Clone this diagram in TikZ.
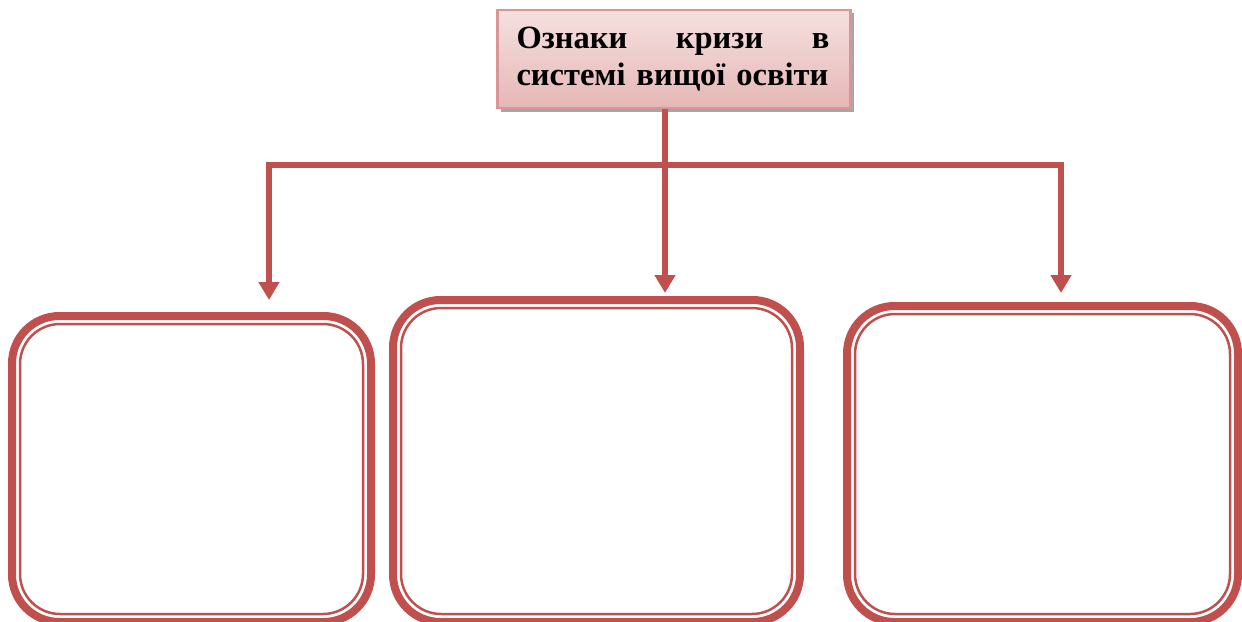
\documentclass[tikz,border=0pt]{standalone}
\usepackage{fontspec}
\setmainfont{Liberation Serif}
\usepackage{xcolor}
\usetikzlibrary{arrows.meta, positioning, shadows}
\definecolor{crisisred}{HTML}{C0504D}
\definecolor{titleedge}{HTML}{D99694}
\definecolor{titletop}{HTML}{F5E1E0}
\definecolor{titlebottom}{HTML}{E5B7B6}

\begin{document}
\begin{tikzpicture}[>=Stealth,
    titlebox/.style={draw=titleedge, line width=1.2pt, top color=titletop,
      bottom color=titlebottom, text width=6.3cm, align=left,
      inner xsep=0.38cm, minimum width=7.06cm, minimum height=1.96cm,
      font=\fontsize{18.5}{21}\selectfont\bfseries,
      drop shadow={shadow xshift=0.07cm, shadow yshift=-0.07cm, fill=gray!70, opacity=1}},
    signbox/.style={draw=crisisred, line width=0.16cm, rounded corners=0.95cm,
      outer sep=0pt, fill=white},
    innerline/.style={draw=crisisred, line width=0.05cm, rounded corners=0.8cm},
    link/.style={draw=crisisred, line width=0.12cm},
    arrow/.style={link, -{Triangle[width=0.4cm, length=0.36cm]}}]

    % page frame
    \useasboundingbox (0,0) rectangle (24.84,-12.44);

    % Title
    \node[titlebox] (title) at (13.48,-1.18)
      {\hbox to 6.26cm{Ознаки\hfill кризи\hfill в}\\системі вищої освіти};

    % The three empty boxes
    \node[signbox, minimum width=7.18cm, minimum height=6.12cm] (b1) at (3.83,-9.38) {};
    \node[signbox, minimum width=8.14cm, minimum height=6.44cm] (b2) at (11.93,-9.22) {};
    \node[signbox, minimum width=7.82cm, minimum height=6.32cm] (b3) at (20.85,-9.28) {};

    % thin inner frame of each box
    \foreach \b in {b1,b2,b3}
      \draw[innerline] ([shift={(0.16,-0.16)}]\b.north west)
        rectangle ([shift={(-0.16,0.16)}]\b.south east);

    % Connectors
    \coordinate (hub) at (13.30,-3.30);
    \draw[link] ([xshift=-0.18cm]title.south) -- (hub);
    \draw[arrow, shorten >=0.32cm] (hub) -| ([xshift=1.55cm]b1.north);
    \draw[arrow, shorten >=0.14cm] (hub) -- (hub |- b2.north);
    \draw[arrow, shorten >=0.26cm] (hub) -| ([xshift=0.37cm]b3.north);
\end{tikzpicture}
\end{document}
